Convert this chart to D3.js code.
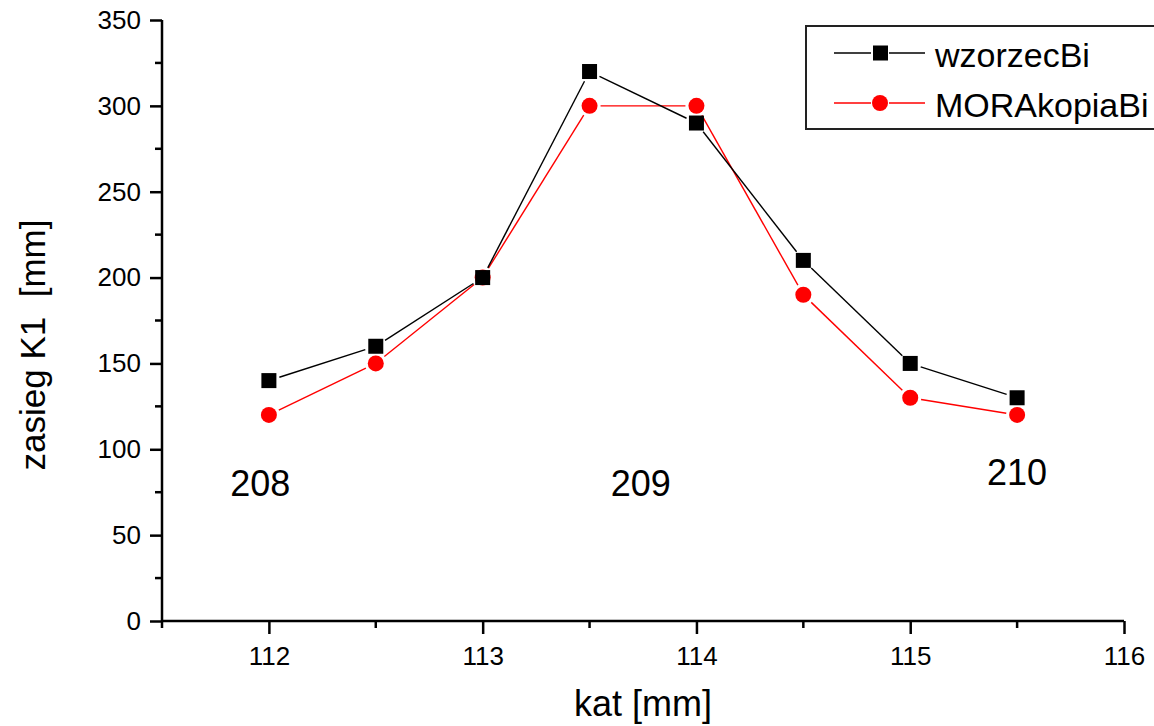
<!DOCTYPE html>
<html><head><meta charset="utf-8">
<script src="https://cdn.jsdelivr.net/npm/d3@7"></script>
<style>body{margin:0;background:#fff}svg{display:block;font-family:"Liberation Sans",Arial,sans-serif}</style>
</head><body><svg id="c" width="1154" height="726"></svg>
<script>
const xValues = [112, 112.5, 113, 113.5, 114, 114.5, 115, 115.5];
const wzorzecBi = [140, 160, 200, 320, 290, 210, 150, 130];
const moraKopiaBi = [120, 150, 200, 300, 300, 190, 130, 120];
const seriesNames = ["wzorzecBi", "MORAkopiaBi"];
const xTicks = [112, 113, 114, 115, 116];
const yTicks = [0, 50, 100, 150, 200, 250, 300, 350];
const annotations = [{t:"208", x:111.96, y:73}, {t:"209", x:113.74, y:73}, {t:"210", x:115.5, y:79}];

const svg = d3.select("#c");
const x = d3.scaleLinear().domain([111.5, 116]).range([162, 1124]);
const y = d3.scaleLinear().domain([0, 350]).range([621, 20]);
const FF = "Liberation Sans, Arial, sans-serif";

function drawSeries(vals, color, gap, marker) {
  const pts = xValues.map((v,i)=>[x(v), y(vals[i])]);
  const g = svg.append("g");
  for (let i=0;i<pts.length-1;i++){
    const [x1,y1]=pts[i],[x2,y2]=pts[i+1];
    const dx=x2-x1, dy=y2-y1, L=Math.hypot(dx,dy);
    const ux=dx/L, uy=dy/L;
    g.append("line").attr("x1",x1+ux*gap).attr("y1",y1+uy*gap)
      .attr("x2",x2-ux*gap).attr("y2",y2-uy*gap)
      .attr("stroke",color).attr("stroke-width",1.4);
  }
  pts.forEach(p=>{
    if(marker==="sq") g.append("rect").attr("x",p[0]-7.5).attr("y",p[1]-7.5).attr("width",15).attr("height",15).attr("fill",color);
    else g.append("circle").attr("cx",p[0]).attr("cy",p[1]).attr("r",8).attr("fill",color);
  });
}
drawSeries(moraKopiaBi, "#ff0000", 11, "c");
drawSeries(wzorzecBi, "#000000", 11, "sq");

// axes
const xAxis = d3.axisBottom(x).tickValues(xTicks).tickFormat(d3.format("d")).tickSize(13).tickSizeOuter(0);
const gx = svg.append("g").attr("transform",`translate(0,${y(0)})`).call(xAxis);
gx.attr("font-size",26).attr("font-family",FF);
gx.select(".domain").attr("stroke-width",2.5).attr("d",`M${x(111.5)},0H${x(116)}`);
gx.selectAll(".tick line").attr("stroke-width",2.5);
gx.selectAll(".tick text").attr("y",44).attr("dy",0);
const xMinor = d3.range(111.5, 116.01, 0.5).filter(v=>!xTicks.includes(v));
gx.selectAll(".minor").data(xMinor).enter().append("line").attr("x1",d=>x(d)).attr("x2",d=>x(d)).attr("y1",0).attr("y2",7).attr("stroke","#000").attr("stroke-width",2.5);

const yAxis = d3.axisLeft(y).tickValues(yTicks).tickSize(12).tickSizeOuter(0);
const gy = svg.append("g").attr("transform",`translate(${x(111.5)},0)`).call(yAxis);
gy.attr("font-size",26).attr("font-family",FF);
gy.select(".domain").attr("stroke-width",2.5).attr("d",`M0,${y(0)}V${y(350)}`);
gy.selectAll(".tick line").attr("stroke-width",2.5);
gy.selectAll(".tick text").attr("x",-21);
const yMinor = d3.range(25, 350, 50);
gy.selectAll(".minor").data(yMinor).enter().append("line").attr("x1",0).attr("x2",-7).attr("y1",d=>y(d)).attr("y2",d=>y(d)).attr("stroke","#000").attr("stroke-width",2.5);

// axis titles
svg.append("text").attr("x",643).attr("y",716).attr("text-anchor","middle").attr("font-size",36).text("kat [mm]");
svg.append("text").attr("transform","translate(33,345) rotate(-90)").attr("text-anchor","middle").attr("font-size",35).attr("dy","0.35em").attr("xml:space","preserve").text("zasieg K1\u00a0 [mm]");

// annotations
annotations.forEach(a=>{
  svg.append("text").attr("x",x(a.x)).attr("y",y(a.y)).attr("text-anchor","middle").attr("font-size",36).text(a.t);
});

// legend
const lg = svg.append("g");
lg.append("rect").attr("x",806).attr("y",26).attr("width",360).attr("height",103).attr("fill","#fff").attr("stroke","#222").attr("stroke-width",2);
const legendItems = [{n:seriesNames[0], c:"#000", m:"sq"}, {n:seriesNames[1], c:"#ff0000", m:"c"}];
legendItems.forEach((it,i)=>{
  const cy = 53 + i*50;
  lg.append("line").attr("x1",834).attr("x2",871).attr("y1",cy).attr("y2",cy).attr("stroke",it.c).attr("stroke-width",1.4);
  lg.append("line").attr("x1",889).attr("x2",925).attr("y1",cy).attr("y2",cy).attr("stroke",it.c).attr("stroke-width",1.4);
  if(it.m==="sq") lg.append("rect").attr("x",873).attr("y",cy-7.5).attr("width",15).attr("height",15).attr("fill",it.c);
  else lg.append("circle").attr("cx",880).attr("cy",cy).attr("r",8).attr("fill",it.c);
  lg.append("text").attr("x",935).attr("y",cy+14).attr("font-size",34).text(it.n);
});
</script></body></html>
